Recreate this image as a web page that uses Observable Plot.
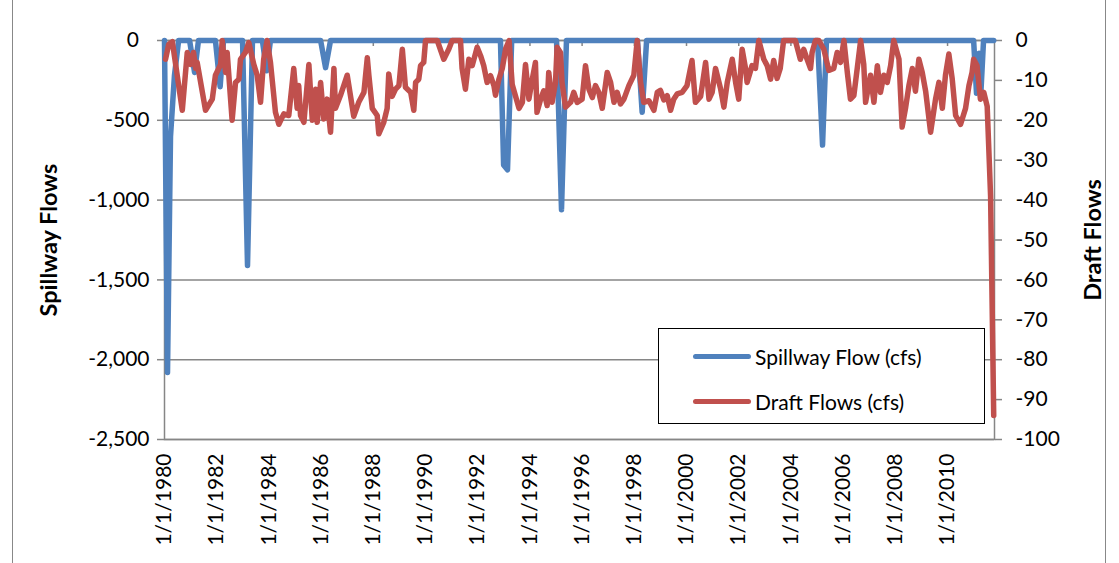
<!DOCTYPE html>
<html><head><meta charset="utf-8">
<script src="https://cdn.jsdelivr.net/npm/d3@7"></script>
<script src="https://cdn.jsdelivr.net/npm/@observablehq/plot@0.6"></script>
<style>
html,body{margin:0;padding:0;background:#fff;}
#chart{position:relative;width:1119px;height:563px;overflow:hidden;}
#chart svg{font-family:Lato,"Open Sans",sans-serif;font-size:21px;color:#000;}
#chart svg g[aria-label="y-axis label"] text{font-weight:bold;font-size:23.5px;}
.legend{position:absolute;left:658px;top:328px;width:327px;height:96px;border:1px solid #000;box-sizing:border-box;background:#fff;font-family:Lato,sans-serif;font-size:21px;}
.legend .row{position:absolute;left:34px;height:24px;display:flex;align-items:center;}
.legend .swatch{width:58px;height:5px;border-radius:2.5px;margin-right:4px;}
.border{position:absolute;left:12px;top:-2px;width:1094px;height:570px;border:1px solid #888;box-sizing:border-box;pointer-events:none;}
</style></head>
<body><div id="chart"></div>
<script>
// ---- data ----
const seriesNames = ["Spillway Flow (cfs)", "Draft Flows (cfs)"];
const spillwayYear = [1980.00,1980.115,1980.23,1980.38,1980.54,1980.96,1981.15,1981.30,1981.95,1982.13,1982.26,1982.99,1983.18,1983.37,1983.75,1983.91,1984.06,1985.98,1986.17,1986.36,1992.87,1992.99,1993.14,1993.30,1995.02,1995.21,1995.40,1998.12,1998.30,1998.47,2005.02,2005.21,2005.36,2011.00,2011.11,2011.21,2011.28,2011.38,2011.77];
const spillwayCfs = [0,-2080,-600,-220,0,0,-200,0,0,-290,0,0,-1410,0,0,-190,0,0,-170,0,0,-780,-810,0,0,-1060,0,0,-450,0,0,-655,0,0,-330,-80,-320,0,0];
const draftYear = [1980.04,1980.16,1980.30,1980.68,1980.87,1981.00,1981.11,1981.19,1981.25,1981.57,1981.83,1981.95,1982.15,1982.21,1982.34,1982.40,1982.59,1982.72,1982.85,1982.91,1983.10,1983.23,1983.42,1983.55,1983.68,1983.80,1983.93,1984.06,1984.25,1984.38,1984.57,1984.76,1984.95,1985.08,1985.14,1985.21,1985.34,1985.53,1985.66,1985.79,1985.85,1985.98,1986.10,1986.23,1986.36,1986.49,1986.55,1986.74,1987.00,1987.25,1987.44,1987.64,1987.77,1987.83,1987.96,1988.15,1988.21,1988.40,1988.53,1988.59,1988.72,1988.85,1988.98,1989.11,1989.23,1989.43,1989.55,1989.62,1989.74,1989.81,1989.93,1990.00,1990.26,1990.45,1990.70,1990.89,1991.02,1991.34,1991.40,1991.53,1991.66,1991.79,1991.98,1992.11,1992.23,1992.36,1992.49,1992.62,1992.68,1992.81,1992.94,1993.07,1993.20,1993.32,1993.58,1993.71,1993.83,1993.96,1994.09,1994.21,1994.27,1994.41,1994.53,1994.66,1994.72,1994.85,1994.98,1995.04,1995.17,1995.23,1995.36,1995.56,1995.68,1995.81,1996.00,1996.13,1996.26,1996.39,1996.51,1996.64,1996.77,1996.96,1997.09,1997.22,1997.34,1997.47,1997.60,1997.79,1997.98,1998.11,1998.24,1998.36,1998.56,1998.75,1998.88,1999.00,1999.13,1999.26,1999.39,1999.51,1999.64,1999.83,2000.02,2000.21,2000.34,2000.54,2000.73,2000.86,2000.98,2001.11,2001.30,2001.43,2001.56,2001.75,2001.88,2002.00,2002.13,2002.26,2002.32,2002.51,2002.64,2002.77,2002.96,2003.09,2003.22,2003.34,2003.47,2003.59,2003.72,2004.17,2004.36,2004.49,2004.62,2004.75,2004.81,2004.94,2005.07,2005.26,2005.45,2005.64,2005.77,2005.90,2006.03,2006.16,2006.28,2006.41,2006.54,2006.67,2006.79,2006.86,2007.05,2007.18,2007.31,2007.43,2007.56,2007.69,2007.82,2007.94,2008.14,2008.26,2008.39,2008.52,2008.65,2008.77,2008.90,2009.03,2009.16,2009.35,2009.54,2009.67,2009.80,2009.92,2010.05,2010.18,2010.31,2010.50,2010.69,2010.82,2010.94,2011.00,2011.13,2011.26,2011.39,2011.52,2011.65,2011.77];
const draftCfs = [-4.7,-1,-0.3,-17.5,-3,-6,-3,-7,-5.5,-17.5,-14.7,-8.7,-6,0,-8,-3,-20,-10.5,-9.7,-4.7,-3,-0.5,-6,-8.7,-15.5,-4.7,0,-5.5,-18,-21,-18.4,-18.8,-7,-17,-11.3,-18.8,-20.5,-6,-20,-12.2,-20.5,-10.5,-19.7,-14.7,-23,-7,-17,-13.8,-8.7,-19,-15.5,-13,-4.3,-8.7,-17,-18.8,-23.4,-20.5,-17,-8.4,-14,-12.2,-11.3,-2.2,-11.7,-13,-17.5,-10.5,-9.7,-6.3,-5.5,0,0,0,-4.7,-2.2,0,0,-7,-12.2,-4.7,-6.3,-1.7,-3.8,-6.3,-10.5,-8.8,-11.3,-13.7,-9.7,-7,-2,0,-11,-17,-15.5,-6,-14.7,-9.7,-5.5,-18,-14.7,-12.6,-16.3,-8,-15.5,-10.5,-1.7,-3,-10.5,-16.7,-15.5,-13,-15.5,-14.7,-6.3,-12.2,-14.3,-11.3,-13,-17,-8,-10.5,-15.5,-13,-15.9,-14.7,-11.3,-8.7,0,-10.5,-15.5,-15.1,-17.5,-13,-12.5,-14.9,-13.8,-17.5,-14.7,-13.4,-13,-11.3,-5,-15.5,-14,-5.5,-14.7,-13,-7,-12,-16.7,-10.5,-4.7,-10.5,-14.7,-2.2,-7,-10.5,-6.3,-7,0,-4.7,-6.3,-9.7,-5,-9.5,-7,0,0,-4.7,-2.2,-4.7,-7,-3,0,0,-2.2,-7.5,-7,-3,-5.5,0,-8,-14.7,-13.8,-7,0,-6,-15.5,-8.7,-15.5,-6.3,-13,-8.7,-10.5,-6.3,0,-4.7,-21.7,-17,-11.3,-7,-12.7,-4.7,-8,-12.7,-23,-14.7,-10.5,-17,-8.7,-3.4,-9.7,-18.8,-21,-17,-11.3,-8,-4.7,-6.3,-14.7,-13,-16.5,-39,-94];
const xTickYears = [1980,1982,1984,1986,1988,1990,1992,1994,1996,1998,2000,2002,2004,2006,2008,2010];
const leftTicks = [0,-500,-1000,-1500,-2000,-2500];
const rightTicks = [0,-10,-20,-30,-40,-50,-60,-70,-80,-90,-100];
const xStartYear = 1980, xEndYear = 2011.8;

// ---- helpers ----
const toDate = y => { const yr = Math.floor(y); const s = new Date(yr,0,1), e = new Date(yr+1,0,1); return new Date(+s + (y-yr)*(e-s)); };
const ratio = 2500/100; // secondary axis: -100 matches -2500
const fmt = v => v === 0 ? "0\u2002" : (v<0?"-":"") + d3.format(",")(Math.abs(v));
const spill = spillwayYear.map((y,i)=>({date:toDate(y), v:spillwayCfs[i]}));
const draft = draftYear.map((y,i)=>({date:toDate(y), v:draftCfs[i]*ratio}));
const blue = "#4F81BD", red = "#C0504D", gray = "#868686";

const chart = Plot.plot({
  width: 1119, height: 563,
  marginLeft: 164, marginRight: 125, marginTop: 40, marginBottom: 124,
  x: {type:"time", domain:[toDate(xStartYear), toDate(xEndYear)]},
  y: {domain:[-2500, 0]},
  marks: [
    Plot.gridY(leftTicks, {stroke: gray, strokeOpacity: 1, strokeWidth: 1.5}),
    Plot.frame({stroke: gray, strokeWidth: 1.5}),
    Plot.axisY(leftTicks, {anchor:"left", tickFormat: fmt, tickSize: 7, tickPadding: 8, stroke: gray, strokeWidth:1.5, label:"Spillway Flows", labelArrow:"none", labelAnchor:"center", labelOffset: 124}),
    Plot.axisY(rightTicks.map(v=>v*ratio), {anchor:"right", tickFormat: v => String(v/ratio), tickSize: 7, tickPadding: 14, stroke: gray, strokeWidth:1.5, label:"Draft Flows", labelArrow:"none", labelAnchor:"center", labelOffset: 106}),
    Plot.axisX(xTickYears.map(y=>toDate(y)), {anchor:"bottom", tickRotate:-90, tickSize:0, tickPadding: 14, tickFormat: d => `1/1/${d.getFullYear()}`, label: null}),
    Plot.axisX(xTickYears.map(y=>toDate(y)), {anchor:"top", tickSize:-5, fill:"none", stroke: gray, strokeWidth:1.5, label:null}),
    Plot.line(spill, {x:"date", y:"v", stroke: blue, strokeWidth: 5.5}),
    Plot.line(draft, {x:"date", y:"v", stroke: red, strokeWidth: 5.5})
  ]
});
const root = document.getElementById("chart");
root.appendChild(chart);
// legend
const lg = document.createElement("div"); lg.className = "legend";
[[blue, seriesNames[0], 15],[red, seriesNames[1], 60]].forEach(([c,t,top])=>{
  const r = document.createElement("div"); r.className="row"; r.style.top = top+"px";
  const s = document.createElement("div"); s.className="swatch"; s.style.background=c;
  const tx = document.createElement("span"); tx.textContent = t;
  r.appendChild(s); r.appendChild(tx); lg.appendChild(r);
});
root.appendChild(lg);
const b = document.createElement("div"); b.className="border"; root.appendChild(b);
</script></body></html>
